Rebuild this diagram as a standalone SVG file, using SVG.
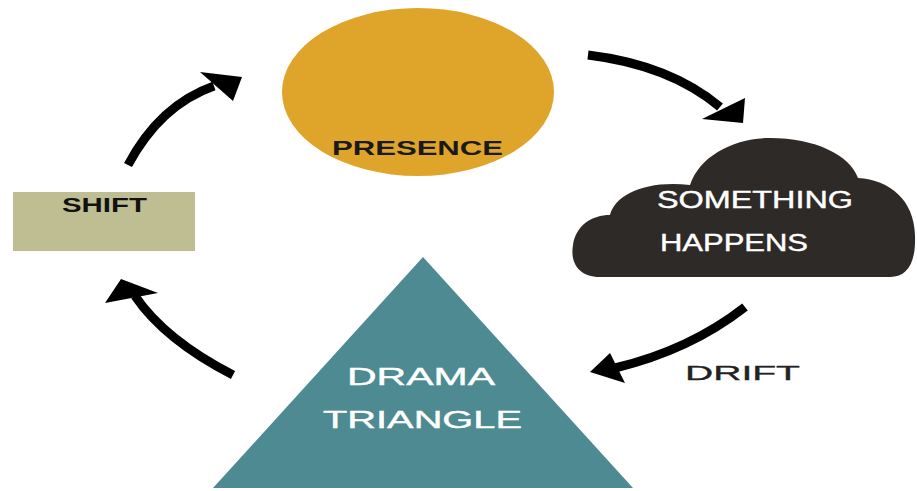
<svg xmlns="http://www.w3.org/2000/svg" width="917" height="491" viewBox="0 0 917 491">
<style>
.lbl{font-family:"Liberation Sans",Arial,sans-serif;}
.b{font-weight:bold;}
.shaft{fill:none;stroke:#000;stroke-width:9;stroke-linecap:butt;}
.head{fill:#000;}
</style>
<rect width="917" height="491" fill="#fff"/>
<g id="presence">
<ellipse cx="418" cy="92" rx="136" ry="84" fill="#DFA52B"/>
<text class="lbl b" x="332" y="155" font-size="21" fill="#1a1a1a" textLength="171" lengthAdjust="spacingAndGlyphs">PRESENCE</text>
</g>
<g id="something-happens">
<path d="M600 277 C578 277 570 262 573 245 C576 225 592 215 610 215 C615 195 645 180 690 185 C700 155 735 138 770 138 C815 138 850 155 858 178 C890 180 914 200 915 235 C916 262 908 277 890 277 Z" fill="#2E2A27"/>
<text class="lbl" x="657" y="208" font-size="23" fill="#fff" stroke="#fff" stroke-width="0.4" textLength="196" lengthAdjust="spacingAndGlyphs">SOMETHING</text>
<text class="lbl" x="660" y="251" font-size="23" fill="#fff" stroke="#fff" stroke-width="0.4" textLength="148" lengthAdjust="spacingAndGlyphs">HAPPENS</text>
</g>
<g id="drama-triangle">
<polygon points="423,257 213,488 633,488" fill="#4D8A91"/>
<text class="lbl" x="347" y="385" font-size="23" fill="#fff" stroke="#fff" stroke-width="0.4" textLength="148" lengthAdjust="spacingAndGlyphs">DRAMA</text>
<text class="lbl" x="323" y="428" font-size="23" fill="#fff" stroke="#fff" stroke-width="0.4" textLength="199" lengthAdjust="spacingAndGlyphs">TRIANGLE</text>
</g>
<g id="shift">
<rect x="13" y="192" width="182" height="59" fill="#BFBE93"/>
<text class="lbl b" x="62" y="212" font-size="20" fill="#111" textLength="85" lengthAdjust="spacingAndGlyphs">SHIFT</text>
</g>
<g id="connectors">
<path class="shaft" d="M128 165 Q160 105 214 86"/>
<polygon class="head" points="200,72 242,77 233,101"/>
<path class="shaft" d="M588 55 Q670 65 720 107"/>
<polygon class="head" points="702,119 745,98 743,123"/>
<path class="shaft" d="M745 307 Q690 350 615 368"/>
<polygon class="head" points="590,372 610,353 625,383"/>
<path class="shaft" d="M233 375 Q165 340 135 296"/>
<polygon class="head" points="105,303 121,279 158,293"/>
<text class="lbl" x="685" y="380" font-size="20" fill="#222" stroke="#222" stroke-width="0.3" textLength="115" lengthAdjust="spacingAndGlyphs">DRIFT</text>
</g>
</svg>
